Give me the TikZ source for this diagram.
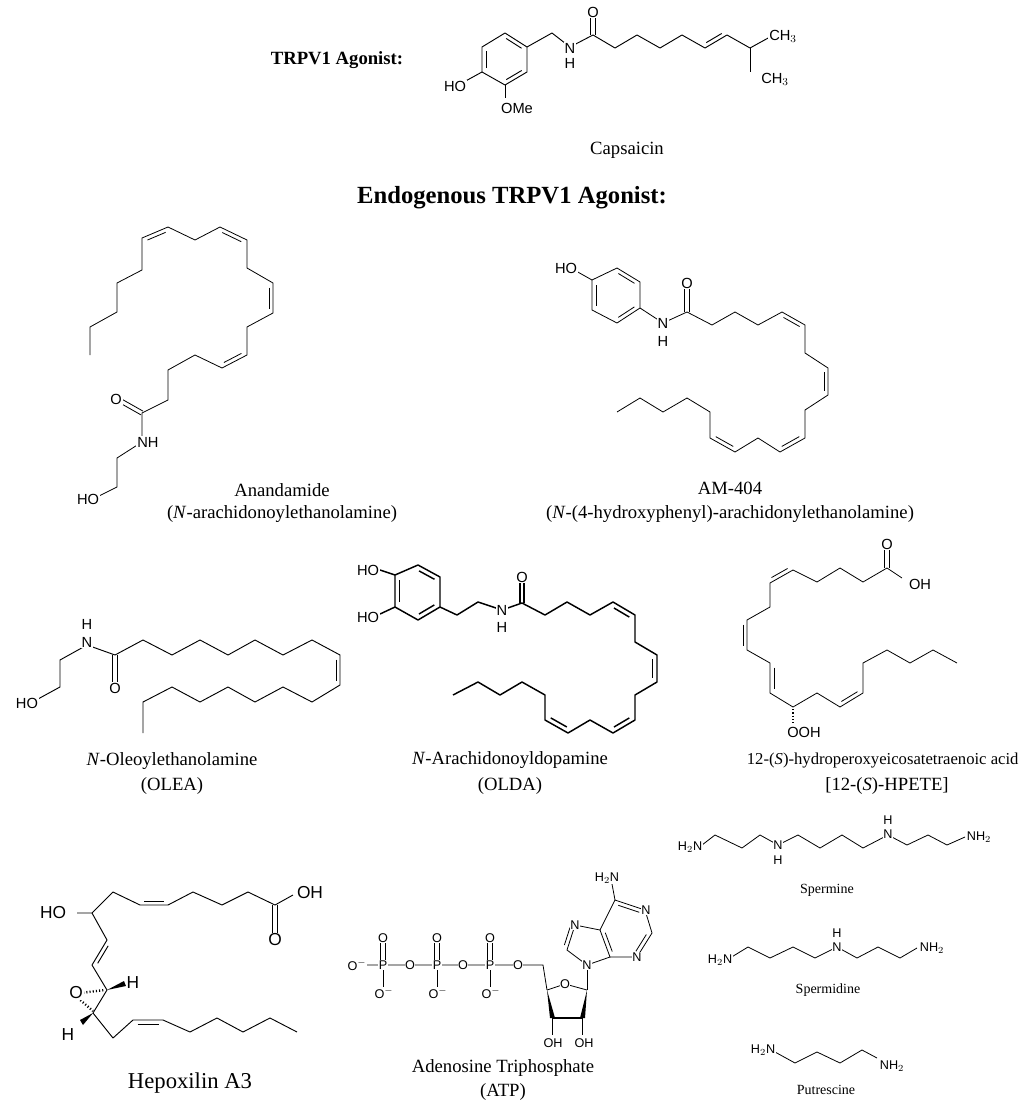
\documentclass[tikz,border=0pt]{standalone}
\usepackage{fontspec}
\setmainfont{Liberation Serif}
\setsansfont{Liberation Sans}
\usetikzlibrary{calc}
\newcommand\dbl[3]{\draw ($#1!0.15!#2!#3!90:#2$) -- ($#2!0.15!#1!#3!-90:#1$);}
\newcommand\cdbl[2]{\draw ($#1!1.6pt!90:#2$) -- ($#2!1.6pt!-90:#1$); \draw ($#1!1.6pt!-90:#2$) -- ($#2!1.6pt!90:#1$);}
\tikzset{
  atm/.style={font=\sffamily\fontsize{11}{11}\selectfont, fill=white, inner sep=0.6pt},
  atsm/.style={font=\sffamily\fontsize{9.5}{9.5}\selectfont, fill=white, inner sep=0.4pt},
  lab/.style={font=\fontsize{14}{16}\selectfont, align=center},
  labs/.style={font=\fontsize{10.5}{12}\selectfont},
  every path/.style={line width=0.7pt, line join=round}
}
\begin{document}
\begin{tikzpicture}[x=0.75pt,y=-0.75pt]
\useasboundingbox (0,0) rectangle (1024,1106);
% ===== titles
\node[font=\bfseries\fontsize{14}{14}\selectfont] at (337,60) {TRPV1 Agonist:};
\node[lab] at (627,150) {Capsaicin};
\node[font=\bfseries\fontsize{18.5}{18}\selectfont] at (512,198) {Endogenous TRPV1 Agonist:};

% ===== Capsaicin
\draw (505,33)--(527,47)--(527,72)--(505,85)--(482,72)--(482,47)--cycle;
\dbl{(505,33)}{(527,47)}{-3pt}
\dbl{(527,72)}{(505,85)}{-3pt}
\dbl{(482,72)}{(482,47)}{-3pt}
\draw (482,72)--(462,83);
\draw (505,85)--(505,98);
\draw (527,47)--(552,33)--(570,47)--(593,35)--(615,48)--(637,35)--(660,48)--(682,35)--(705,48)--(727,35)--(750,48)--(770,37);
\draw (750,48)--(750,72);
\cdbl{(593,35)}{(593,14)}
\dbl{(705,48)}{(727,35)}{3pt}
\node[atm] at (455,86) {HO};
\node[atm] at (517,108) {OMe};
\node[atm] at (570,48) {N};
\node[atm] at (570,63) {H};
\node[atm] at (593,12) {O};
\node[atm,anchor=west] at (768,36) {CH$_3$};
\node[atm,anchor=west] at (760,79) {CH$_3$};

% ===== Anandamide
\begin{scope}[every path/.style={line width=0.6pt}]
\draw (90,355)--(90,327)--(117,312)--(117,283)--(142,270)--(142,238)--(168,227)--(195,240)--(220,227)--(247,240)--(247,268)--(273,283)--(273,313)--(247,327)--(247,355)--(222,368)--(195,355)--(168,370)--(168,400)--(142,413)--(142,442)--(117,458)--(117,487)--(97,497);
\dbl{(142,238)}{(168,227)}{-3pt}
\dbl{(220,227)}{(247,240)}{-3pt}
\dbl{(273,283)}{(273,313)}{-3pt}
\dbl{(247,355)}{(222,368)}{-3pt}
\cdbl{(142,413)}{(119,400)}
\end{scope}
\node[atm] at (116,399) {O};
\node[atm,anchor=west] at (136,442) {NH};
\node[atm] at (88,499) {HO};
\node[lab] at (282,490) {Anandamide};
\node[lab] at (282,514) {(\textit{N}-arachidonoylethanolamine)};

% ===== AM-404
\begin{scope}[every path/.style={line width=0.6pt}]
\draw (592,280)--(617,268)--(640,282)--(640,308)--(617,323)--(592,310)--cycle;
\dbl{(617,268)}{(640,282)}{-3pt}
\dbl{(640,308)}{(617,323)}{-3pt}
\dbl{(592,310)}{(592,280)}{-3pt}
\draw (592,280)--(576,271);
\draw (640,308)--(663,323)--(687,312)--(712,325)--(735,312)--(758,325)--(782,312)--(805,325)--(805,353)--(828,368)--(828,395)--(805,410)--(805,438)--(780,452)--(758,438)--(735,452)--(710,438)--(710,412)--(687,398)--(663,412)--(640,398)--(617,412);
\cdbl{(687,312)}{(687,285)}
\dbl{(782,312)}{(805,325)}{-3pt}
\dbl{(828,368)}{(828,395)}{-3pt}
\dbl{(805,438)}{(780,452)}{-3pt}
\dbl{(735,452)}{(710,438)}{-3pt}
\end{scope}
\node[atm] at (566,268) {HO};
\node[atm] at (663,323) {N};
\node[atm] at (663,341) {H};
\node[atm] at (687,283) {O};
\node[lab] at (730,488) {AM-404};
\node[lab] at (730,514) {(\textit{N}-(4-hydroxyphenyl)-arachidonylethanolamine)};

% ===== OLEA
\draw (38,699)--(60,687)--(60,660)--(87,645)--(115,655)--(143,640)--(172,655)--(200,640)--(228,655)--(255,640)--(283,655)--(312,640)--(340,655)--(340,685)--(312,702)--(283,687)--(255,702)--(228,687)--(200,702)--(172,687)--(143,702)--(143,733);
\cdbl{(115,655)}{(115,683)}
\dbl{(340,655)}{(340,685)}{-3pt}
\node[atm] at (87,642) {N};
\node[atm] at (87,624) {H};
\node[atm] at (115,688) {O};
\node[atm] at (27,703) {HO};
\node[lab] at (172,761) {\textit{N}-Oleoylethanolamine};
\node[lab] at (172,786) {(OLEA)};

% ===== OLDA
\begin{scope}[every path/.style={line width=1.1pt, line join=round}]
\draw (395,575)--(418,565)--(440,577)--(440,607)--(418,620)--(395,607)--cycle;
\dbl{(418,565)}{(440,577)}{-3.5pt}
\dbl{(440,607)}{(418,620)}{-3.5pt}
\dbl{(395,607)}{(395,575)}{-3.5pt}
\draw (395,575)--(380,570);
\draw (395,607)--(380,614);
\draw (440,607)--(457,615)--(478,602)--(502,610)--(522,603)--(545,615)--(567,602)--(590,615)--(613,602)--(635,615)--(635,642)--(657,655)--(657,682)--(635,695)--(635,720)--(613,733)--(590,720)--(568,733)--(545,720)--(545,695)--(522,682)--(500,695)--(478,682)--(453,695);
\cdbl{(522,603)}{(522,580)}
\dbl{(613,602)}{(635,615)}{-3.5pt}
\dbl{(657,655)}{(657,682)}{-3.5pt}
\dbl{(635,720)}{(613,733)}{-3.5pt}
\dbl{(568,733)}{(545,720)}{-3.5pt}
\end{scope}
\node[atm] at (368,570) {HO};
\node[atm] at (368,617) {HO};
\node[atm] at (502,610) {N};
\node[atm] at (502,627) {H};
\node[atm] at (522,577) {O};
\node[lab] at (510,760) {\textit{N}-Arachidonoyldopamine};
\node[lab] at (510,786) {(OLDA)};

% ===== 12-(S)-HPETE
\begin{scope}[every path/.style={line width=0.6pt}]
\draw (902,578)--(887,568)--(863,582)--(840,568)--(817,582)--(793,570)--(770,583)--(770,607)--(747,620)--(747,650)--(770,663)--(770,693)--(793,707)--(817,693)--(840,707)--(863,693)--(863,663)--(887,650)--(910,663)--(933,650)--(957,663);
\cdbl{(887,568)}{(887,547)}
\dbl{(793,570)}{(770,583)}{-3pt}
\dbl{(747,620)}{(747,650)}{-3pt}
\dbl{(770,663)}{(770,693)}{3pt}
\dbl{(840,707)}{(863,693)}{3pt}
\draw[dash pattern=on 1pt off 1.5pt, line width=1.6pt] (793,709)--(793,723);
\end{scope}
\node[atm] at (887,544) {O};
\node[atm] at (920,584) {OH};
\node[atm] at (804,732) {OOH};
\node[font=\fontsize{12.5}{14}\selectfont, anchor=east, inner sep=0pt] at (1019,761) {12-(\textit{S})-hydroperoxyeicosatetraenoic acid};
\node[lab] at (887,786) {[12-(\textit{S})-HPETE]};

% ===== Polyamines
\begin{scope}[every path/.style={line width=0.6pt}]
\draw (702,845)--(715,835)--(742,848)--(760,835)--(778,845)--(798,835)--(820,848)--(842,835)--(863,848)--(888,835)--(907,845)--(928,835)--(947,845)--(965,837);
\draw (730,958)--(748,947)--(770,958)--(793,947)--(815,958)--(837,947)--(857,958)--(878,947)--(900,958)--(917,948);
\draw (775,1052)--(795,1063)--(817,1052)--(840,1063)--(862,1050)--(877,1058);
\end{scope}
\node[atsm] at (690,847) {H$_2$N};
\node[atsm] at (778,845) {N};
\node[atsm] at (778,860) {H};
\node[atsm] at (888,834) {N};
\node[atsm] at (888,820) {H};
\node[atsm] at (979,837) {NH$_2$};
\node[labs] at (827,890) {Spermine};
\node[atsm] at (720,960) {H$_2$N};
\node[atsm] at (837,947) {N};
\node[atsm] at (837,933) {H};
\node[atsm] at (932,948) {NH$_2$};
\node[labs] at (828,990) {Spermidine};
\node[atsm] at (763,1050) {H$_2$N};
\node[atsm] at (892,1066) {NH$_2$};
\node[labs] at (826,1090) {Putrescine};

% ===== Hepoxilin A3
\draw (77,913)--(92,913)--(113,892)--(140,905)--(168,905)--(193,892)--(222,905)--(248,892)--(275,905)--(293,895);
\draw (92,913)--(107,940)--(92,965)--(107,990)--(93,1013)--(113,1038)--(133,1020)--(163,1020)--(190,1032)--(217,1018)--(243,1032)--(270,1018)--(297,1032);
\cdbl{(275,905)}{(275,933)}
\dbl{(140,905)}{(168,905)}{3pt}
\dbl{(107,940)}{(92,965)}{3pt}
\dbl{(133,1020)}{(163,1020)}{-3pt}
\draw[dash pattern=on 0.8pt off 1.6pt, line width=1.8pt] (80,993)--(105,990);
\draw[dash pattern=on 0.8pt off 1.6pt, line width=1.8pt] (78,998)--(93,1011);
\fill (107,990)--(124,981)--(126,986)--cycle;
\fill (93,1013)--(80,1020)--(83,1025)--cycle;
\node[atm,font=\sffamily\fontsize{13}{13}\selectfont] at (53,913) {HO};
\node[atm,font=\sffamily\fontsize{13}{13}\selectfont] at (310,893) {OH};
\node[atm,font=\sffamily\fontsize{13}{13}\selectfont] at (275,940) {O};
\node[atm,font=\sffamily\fontsize{13}{13}\selectfont] at (76,993) {O};
\node[atm,font=\sffamily\fontsize{13}{13}\selectfont] at (133,983) {H};
\node[atm,font=\sffamily\fontsize{13}{13}\selectfont] at (68,1035) {H};
\node[font=\fontsize{17}{17}\selectfont] at (190,1083) {Hepoxilin A3};

% ===== ATP
\begin{scope}[every path/.style={line width=0.6pt}]
\draw (357,965)--(518,965)--(543,965)--(547,990);
\foreach \x in {383,437,490}{
  \cdbl{(\x,965)}{(\x,940)}
  \draw (\x,965)--(\x,990);
}
\draw (547,990)--(565,984)--(587,990);
\fill (547,990)--(550,1018)--(555,1018)--cycle;
\fill (587,990)--(580,1018)--(585,1018)--cycle;
\draw[line width=2.2pt] (552,1018)--(582,1018);
\draw (552,1018)--(552,1035);
\draw (582,1018)--(582,1035);
\draw (587,990)--(587,965);
\draw (587,965)--(567,950)--(575,925)--(600,930)--(610,957)--cycle;
\dbl{(567,950)}{(575,925)}{3pt}
\draw (600,930)--(615,900)--(645,910)--(652,933)--(637,957)--(610,957);
\dbl{(600,930)}{(610,957)}{3pt}
\dbl{(615,900)}{(645,910)}{-3pt}
\dbl{(652,933)}{(637,957)}{-3pt}
\draw (615,900)--(612,884);
\end{scope}
\foreach \x/\l in {357/O$^{-}$,410/O,463/O,518/O}{\node[atsm] at (\x,965) {\l};}
\foreach \x in {383,437,490}{
  \node[atsm] at (\x,965) {P};
  \node[atsm] at (\x,938) {O};
  \node[atsm] at (\x+1,993) {O$^{-}$};
}
\node[atsm] at (565,984) {O};
\node[atsm] at (587,965) {N};
\node[atsm] at (575,925) {N};
\node[atsm] at (646,910) {N};
\node[atsm] at (637,957) {N};
\node[atsm] at (607,878) {H$_2$N};
\node[atsm] at (553,1043) {OH};
\node[atsm] at (584,1043) {OH};
\node[lab] at (503,1068) {Adenosine Triphosphate};
\node[lab] at (503,1092) {(ATP)};
\end{tikzpicture}
\end{document}
